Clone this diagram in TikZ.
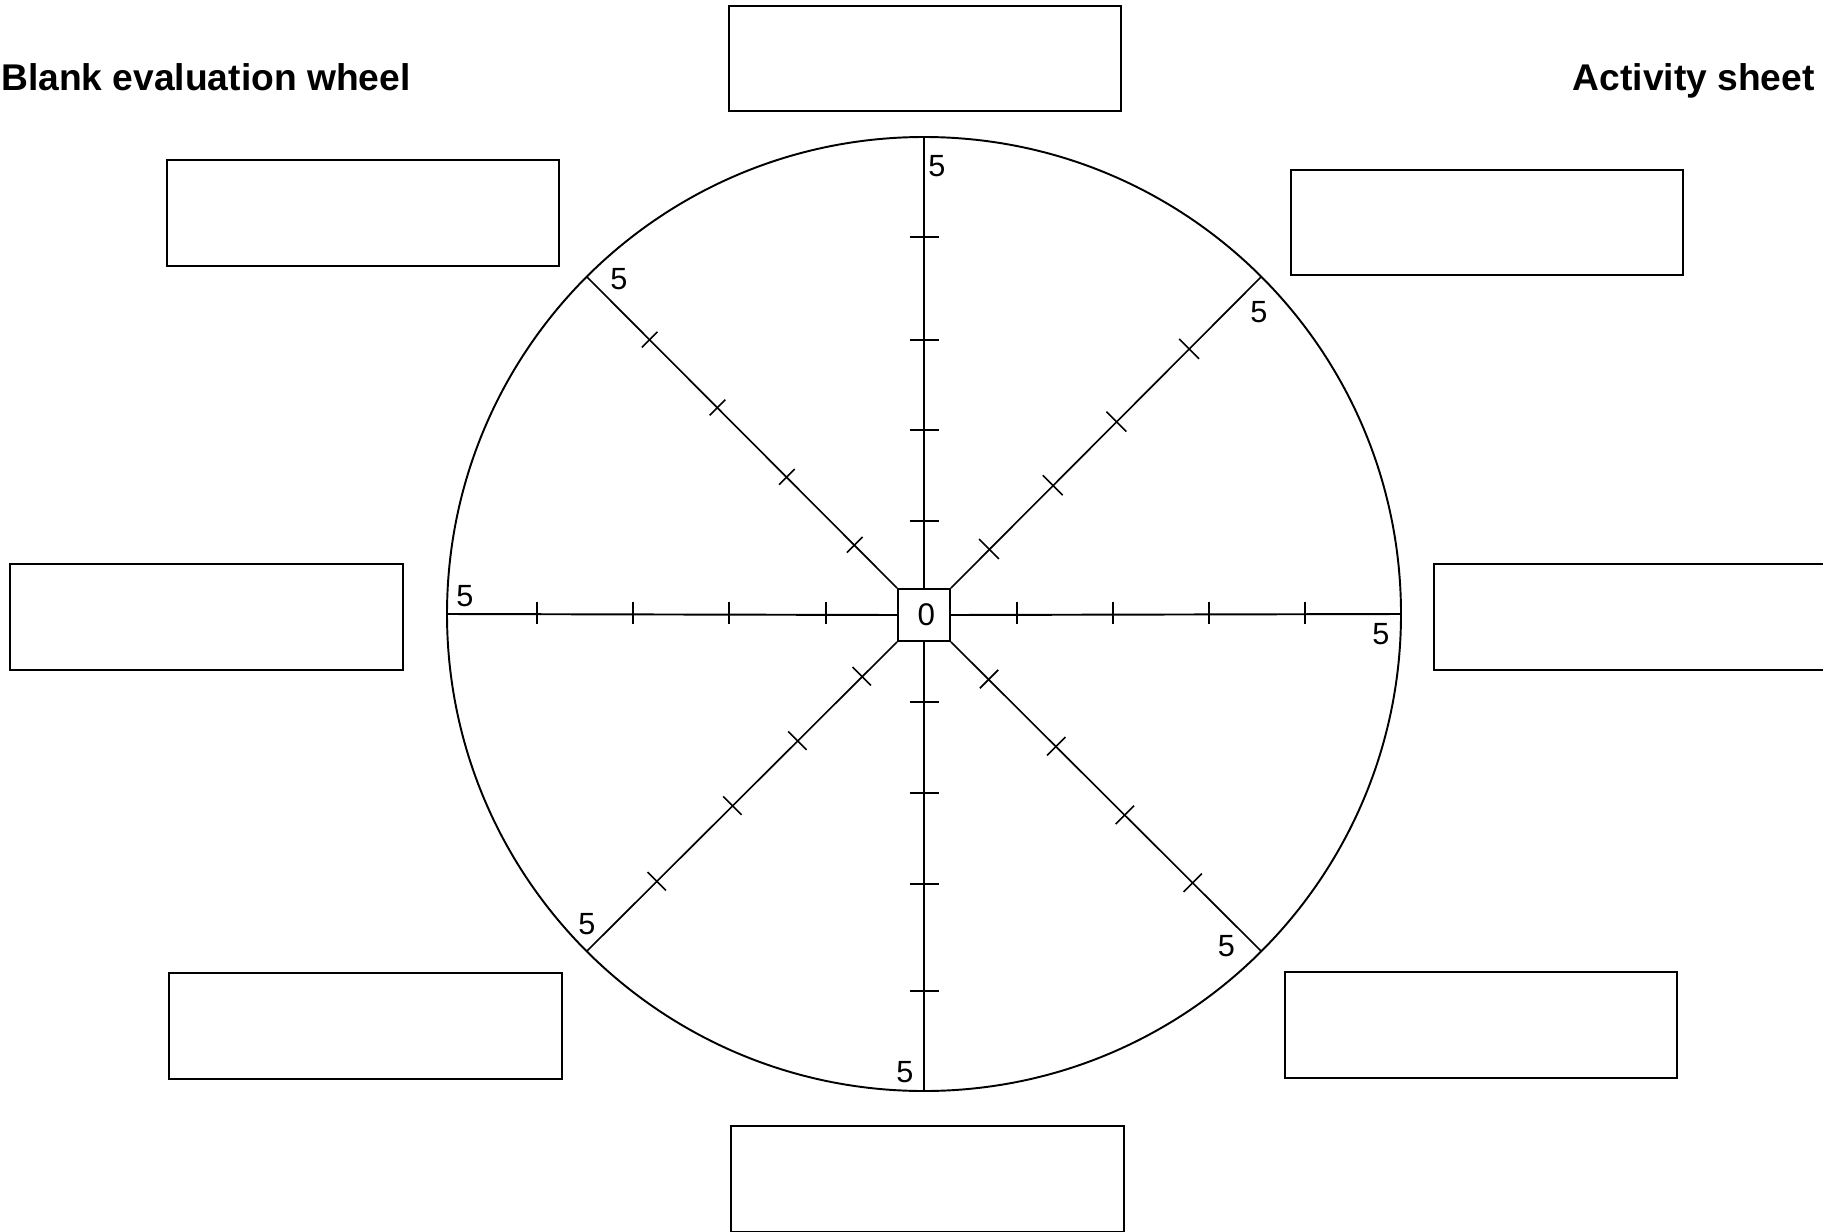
\documentclass[tikz,border=0pt]{standalone}
\usepackage{fontspec}
\setmainfont{Liberation Sans}
\begin{document}
\begin{tikzpicture}[x=0.75pt,y=-0.75pt,
  blankbox/.style={draw,line width=1.45pt,minimum width=294.5pt,minimum height=79pt,inner sep=0pt},
  zerobox/.style={draw,line width=1.45pt,minimum width=39pt,minimum height=39pt,inner sep=0pt,font=\fontsize{23.5}{26}\selectfont},
  axis/.style={line width=1.45pt},
  diag/.style={line width=1.25pt},
  tick/.style={line width=1.2pt},
  numlab/.style={inner sep=0pt,font=\fontsize{23}{26}\selectfont},
  titletext/.style={inner sep=0pt,font=\fontsize{27.9}{30}\selectfont\bfseries}]
\useasboundingbox (0,0) rectangle (1823,1231);
\clip (0,0) rectangle (1823,1231);

% titles
\node[titletext,anchor=base west] (t1) at (1,90.7) {Blank evaluation wheel};
\node[titletext,anchor=base east] (t2) at (1815,90.7) {Activity sheet};

% blank boxes
\node[blankbox] (bTop) at (925,58.7) {};
\node[blankbox] (bUL) at (363,213) {};
\node[blankbox] (bUR) at (1487,222.3) {};
\node[blankbox] (bL) at (206.3,617) {};
\node[blankbox] (bR) at (1630.5,617) {};
\node[blankbox] (bLL) at (365.6,1026) {};
\node[blankbox] (bLR) at (1481.1,1025) {};
\node[blankbox] (bBot) at (927.5,1179) {};

% wheel outline
\draw[line width=1.45pt] (924,614) circle [radius=357.75pt];

% centre box
\node[zerobox] (zero) at (924,615) {\raisebox{-3pt}{\hspace{3.5pt}0}};

% axis end points on the wheel
\coordinate (eN) at (924,137);
\coordinate (eS) at (924,1091);
\coordinate (eW) at (447,614);
\coordinate (eE) at (1401,614);
\coordinate (eNW) at (586.7,276.7);
\coordinate (eNE) at (1261.3,276.7);
\coordinate (eSW) at (586.7,951.3);
\coordinate (eSE) at (1261.3,951.3);

% axes
\draw[axis] (zero.north) -- (eN);
\draw[axis] (zero.south) -- (eS);
\draw[axis] (zero.west) -- (eW);
\draw[axis] (zero.east) -- (eE);
\draw[diag] (zero.north west) -- (eNW);
\draw[diag] (zero.north east) -- (eNE);
\draw[diag] (zero.south west) -- (eSW);
\draw[diag] (zero.south east) -- (eSE);

% ticks on the vertical axis
\foreach \d in {93,184,274,377}
  \draw[tick] (909.5,614-\d) -- (938.5,614-\d);
\foreach \d in {88,179,270,377}
  \draw[tick] (909.5,614+\d) -- (938.5,614+\d);
% ticks on the horizontal axis
\foreach \d in {98,195,291,387}
  \draw[tick] (924-\d,602) -- (924-\d,624);
\foreach \d in {93,189,285,381}
  \draw[tick] (924+\d,602) -- (924+\d,624);
% ticks on the diagonals (s = cos 45)
\def\s{0.7071}
\foreach \d in {98,194,292,388}
  \draw[tick] ({924-\d*\s-11*\s},{614-\d*\s+11*\s}) -- ({924-\d*\s+11*\s},{614-\d*\s-11*\s});
\foreach \d in {92,182,272,375}
  \draw[tick] ({924+\d*\s-14*\s},{614-\d*\s-14*\s}) -- ({924+\d*\s+14*\s},{614-\d*\s+14*\s});
\foreach \d in {88,179,271,378}
  \draw[tick] ({924-\d*\s-13*\s},{614+\d*\s-13*\s}) -- ({924-\d*\s+13*\s},{614+\d*\s+13*\s});
\foreach \d in {92,187,284,380}
  \draw[tick] ({924+\d*\s-13*\s},{614+\d*\s+13*\s}) -- ({924+\d*\s+13*\s},{614+\d*\s-13*\s});

% scale labels
\node[numlab] (lN) at (937,166) {5};
\node[numlab] (lS) at (905,1072.5) {5};
\node[numlab] (lW) at (465,596) {5};
\node[numlab] (lE) at (1381,634) {5};
\node[numlab] (lNW) at (619,279) {5};
\node[numlab] (lNE) at (1259,312.5) {5};
\node[numlab] (lSW) at (587,924) {5};
\node[numlab] (lSE) at (1226.5,946.4) {5};
\end{tikzpicture}
\end{document}
